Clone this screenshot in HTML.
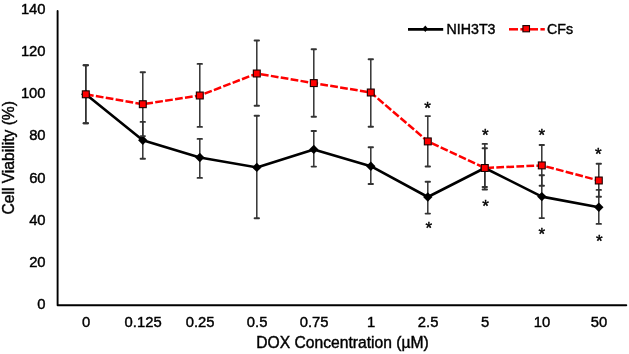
<!DOCTYPE html>
<html><head><meta charset="utf-8"><style>
html,body{margin:0;padding:0;background:#fff;}
body{width:629px;height:354px;overflow:hidden;}
svg{display:block;will-change:transform;}
text{font-family:"Liberation Sans",sans-serif;fill:#000;stroke:#000;stroke-width:0.42px;}
.yl{font-size:14.8px;text-anchor:end;}
.xl{font-size:14.8px;text-anchor:middle;}
.tt{font-size:15.65px;text-anchor:middle;}
.lg{font-size:14.2px;}
.ast{font-size:17px;text-anchor:middle;}
</style></head><body>
<svg width="629" height="354" viewBox="0 0 629 354">
<g stroke="#333" stroke-width="1.5" fill="none">
<line x1="85.80" y1="65.30" x2="85.80" y2="123.30"/><line x1="83.60" y1="65.30" x2="88.00" y2="65.30" stroke-width="1.9" stroke-linecap="round"/><line x1="83.60" y1="123.30" x2="88.00" y2="123.30" stroke-width="1.9" stroke-linecap="round"/>
<line x1="142.80" y1="121.90" x2="142.80" y2="158.80"/><line x1="140.60" y1="121.90" x2="145.00" y2="121.90" stroke-width="1.9" stroke-linecap="round"/><line x1="140.60" y1="158.80" x2="145.00" y2="158.80" stroke-width="1.9" stroke-linecap="round"/>
<line x1="199.80" y1="138.90" x2="199.80" y2="177.90"/><line x1="197.60" y1="138.90" x2="202.00" y2="138.90" stroke-width="1.9" stroke-linecap="round"/><line x1="197.60" y1="177.90" x2="202.00" y2="177.90" stroke-width="1.9" stroke-linecap="round"/>
<line x1="256.80" y1="115.70" x2="256.80" y2="218.20"/><line x1="254.60" y1="115.70" x2="259.00" y2="115.70" stroke-width="1.9" stroke-linecap="round"/><line x1="254.60" y1="218.20" x2="259.00" y2="218.20" stroke-width="1.9" stroke-linecap="round"/>
<line x1="313.80" y1="131.00" x2="313.80" y2="166.60"/><line x1="311.60" y1="131.00" x2="316.00" y2="131.00" stroke-width="1.9" stroke-linecap="round"/><line x1="311.60" y1="166.60" x2="316.00" y2="166.60" stroke-width="1.9" stroke-linecap="round"/>
<line x1="370.80" y1="147.20" x2="370.80" y2="184.00"/><line x1="368.60" y1="147.20" x2="373.00" y2="147.20" stroke-width="1.9" stroke-linecap="round"/><line x1="368.60" y1="184.00" x2="373.00" y2="184.00" stroke-width="1.9" stroke-linecap="round"/>
<line x1="427.80" y1="181.80" x2="427.80" y2="213.60"/><line x1="425.60" y1="181.80" x2="430.00" y2="181.80" stroke-width="1.9" stroke-linecap="round"/><line x1="425.60" y1="213.60" x2="430.00" y2="213.60" stroke-width="1.9" stroke-linecap="round"/>
<line x1="484.80" y1="148.20" x2="484.80" y2="187.00"/><line x1="482.60" y1="148.20" x2="487.00" y2="148.20" stroke-width="1.9" stroke-linecap="round"/><line x1="482.60" y1="187.00" x2="487.00" y2="187.00" stroke-width="1.9" stroke-linecap="round"/>
<line x1="541.80" y1="175.20" x2="541.80" y2="218.10"/><line x1="539.60" y1="175.20" x2="544.00" y2="175.20" stroke-width="1.9" stroke-linecap="round"/><line x1="539.60" y1="218.10" x2="544.00" y2="218.10" stroke-width="1.9" stroke-linecap="round"/>
<line x1="598.80" y1="189.90" x2="598.80" y2="223.90"/><line x1="596.60" y1="189.90" x2="601.00" y2="189.90" stroke-width="1.9" stroke-linecap="round"/><line x1="596.60" y1="223.90" x2="601.00" y2="223.90" stroke-width="1.9" stroke-linecap="round"/>
</g>
<polyline points="85.80,94.30 142.80,140.30 199.80,157.50 256.80,167.40 313.80,149.40 370.80,166.20 427.80,197.00 484.80,168.00 541.80,196.60 598.80,207.30" fill="none" stroke="#000" stroke-width="2.6" stroke-linejoin="round"/>
<path d="M85.80 89.60L90.50 94.30L85.80 99.00L81.10 94.30Z" fill="#000"/>
<path d="M142.80 135.60L147.50 140.30L142.80 145.00L138.10 140.30Z" fill="#000"/>
<path d="M199.80 152.80L204.50 157.50L199.80 162.20L195.10 157.50Z" fill="#000"/>
<path d="M256.80 162.70L261.50 167.40L256.80 172.10L252.10 167.40Z" fill="#000"/>
<path d="M313.80 144.70L318.50 149.40L313.80 154.10L309.10 149.40Z" fill="#000"/>
<path d="M370.80 161.50L375.50 166.20L370.80 170.90L366.10 166.20Z" fill="#000"/>
<path d="M427.80 192.30L432.50 197.00L427.80 201.70L423.10 197.00Z" fill="#000"/>
<path d="M484.80 163.30L489.50 168.00L484.80 172.70L480.10 168.00Z" fill="#000"/>
<path d="M541.80 191.90L546.50 196.60L541.80 201.30L537.10 196.60Z" fill="#000"/>
<path d="M598.80 202.60L603.50 207.30L598.80 212.00L594.10 207.30Z" fill="#000"/>
<g stroke="#333" stroke-width="1.5" fill="none">
<line x1="85.80" y1="65.30" x2="85.80" y2="123.30"/><line x1="83.60" y1="65.30" x2="88.00" y2="65.30" stroke-width="1.9" stroke-linecap="round"/><line x1="83.60" y1="123.30" x2="88.00" y2="123.30" stroke-width="1.9" stroke-linecap="round"/>
<line x1="142.80" y1="72.30" x2="142.80" y2="136.10"/><line x1="140.60" y1="72.30" x2="145.00" y2="72.30" stroke-width="1.9" stroke-linecap="round"/><line x1="140.60" y1="136.10" x2="145.00" y2="136.10" stroke-width="1.9" stroke-linecap="round"/>
<line x1="199.80" y1="63.90" x2="199.80" y2="126.90"/><line x1="197.60" y1="63.90" x2="202.00" y2="63.90" stroke-width="1.9" stroke-linecap="round"/><line x1="197.60" y1="126.90" x2="202.00" y2="126.90" stroke-width="1.9" stroke-linecap="round"/>
<line x1="256.80" y1="40.50" x2="256.80" y2="105.80"/><line x1="254.60" y1="40.50" x2="259.00" y2="40.50" stroke-width="1.9" stroke-linecap="round"/><line x1="254.60" y1="105.80" x2="259.00" y2="105.80" stroke-width="1.9" stroke-linecap="round"/>
<line x1="313.80" y1="49.30" x2="313.80" y2="116.80"/><line x1="311.60" y1="49.30" x2="316.00" y2="49.30" stroke-width="1.9" stroke-linecap="round"/><line x1="311.60" y1="116.80" x2="316.00" y2="116.80" stroke-width="1.9" stroke-linecap="round"/>
<line x1="370.80" y1="59.30" x2="370.80" y2="126.80"/><line x1="368.60" y1="59.30" x2="373.00" y2="59.30" stroke-width="1.9" stroke-linecap="round"/><line x1="368.60" y1="126.80" x2="373.00" y2="126.80" stroke-width="1.9" stroke-linecap="round"/>
<line x1="427.80" y1="116.10" x2="427.80" y2="166.50"/><line x1="425.60" y1="116.10" x2="430.00" y2="116.10" stroke-width="1.9" stroke-linecap="round"/><line x1="425.60" y1="166.50" x2="430.00" y2="166.50" stroke-width="1.9" stroke-linecap="round"/>
<line x1="484.80" y1="143.90" x2="484.80" y2="189.50"/><line x1="482.60" y1="143.90" x2="487.00" y2="143.90" stroke-width="1.9" stroke-linecap="round"/><line x1="482.60" y1="189.50" x2="487.00" y2="189.50" stroke-width="1.9" stroke-linecap="round"/>
<line x1="541.80" y1="145.00" x2="541.80" y2="185.80"/><line x1="539.60" y1="145.00" x2="544.00" y2="145.00" stroke-width="1.9" stroke-linecap="round"/><line x1="539.60" y1="185.80" x2="544.00" y2="185.80" stroke-width="1.9" stroke-linecap="round"/>
<line x1="598.80" y1="163.70" x2="598.80" y2="196.80"/><line x1="596.60" y1="163.70" x2="601.00" y2="163.70" stroke-width="1.9" stroke-linecap="round"/><line x1="596.60" y1="196.80" x2="601.00" y2="196.80" stroke-width="1.9" stroke-linecap="round"/>
</g>
<polyline points="85.80,94.30 142.80,104.20 199.80,95.50 256.80,73.50 313.80,83.10 370.80,92.50 427.80,141.40 484.80,168.00 541.80,165.40 598.80,180.50" fill="none" stroke="#ff0000" stroke-width="2.5" stroke-dasharray="7.75 2.285" stroke-dashoffset="-0.18"/>
<rect x="82.35" y="90.85" width="6.90" height="6.90" fill="#ff0000" stroke="#1a0000" stroke-width="1.1"/>
<rect x="139.35" y="100.75" width="6.90" height="6.90" fill="#ff0000" stroke="#1a0000" stroke-width="1.1"/>
<rect x="196.35" y="92.05" width="6.90" height="6.90" fill="#ff0000" stroke="#1a0000" stroke-width="1.1"/>
<rect x="253.35" y="70.05" width="6.90" height="6.90" fill="#ff0000" stroke="#1a0000" stroke-width="1.1"/>
<rect x="310.35" y="79.65" width="6.90" height="6.90" fill="#ff0000" stroke="#1a0000" stroke-width="1.1"/>
<rect x="367.35" y="89.05" width="6.90" height="6.90" fill="#ff0000" stroke="#1a0000" stroke-width="1.1"/>
<rect x="424.35" y="137.95" width="6.90" height="6.90" fill="#ff0000" stroke="#1a0000" stroke-width="1.1"/>
<rect x="481.35" y="164.55" width="6.90" height="6.90" fill="#ff0000" stroke="#1a0000" stroke-width="1.1"/>
<rect x="538.35" y="161.95" width="6.90" height="6.90" fill="#ff0000" stroke="#1a0000" stroke-width="1.1"/>
<rect x="595.35" y="177.05" width="6.90" height="6.90" fill="#ff0000" stroke="#1a0000" stroke-width="1.1"/>
<text x="427.60" y="113.90" class="ast">*</text>
<text x="428.70" y="234.10" class="ast">*</text>
<text x="485.30" y="140.60" class="ast">*</text>
<text x="485.60" y="211.50" class="ast">*</text>
<text x="541.90" y="140.60" class="ast">*</text>
<text x="541.90" y="240.30" class="ast">*</text>
<text x="598.30" y="159.60" class="ast">*</text>
<text x="599.40" y="246.90" class="ast">*</text>
<path d="M57.6 10.9V305.3H626.3" fill="none" stroke="#000" stroke-width="1.9" stroke-linejoin="round" stroke-linecap="round"/>
<text x="45.6" y="309.10" class="yl">0</text>
<text x="45.6" y="266.94" class="yl">20</text>
<text x="45.6" y="224.78" class="yl">40</text>
<text x="45.6" y="182.62" class="yl">60</text>
<text x="45.6" y="140.46" class="yl">80</text>
<text x="45.6" y="98.30" class="yl">100</text>
<text x="45.6" y="56.14" class="yl">120</text>
<text x="45.6" y="13.98" class="yl">140</text>
<text x="86.10" y="327.1" class="xl">0</text>
<text x="143.10" y="327.1" class="xl">0.125</text>
<text x="200.10" y="327.1" class="xl">0.25</text>
<text x="257.10" y="327.1" class="xl">0.5</text>
<text x="314.10" y="327.1" class="xl">0.75</text>
<text x="371.10" y="327.1" class="xl">1</text>
<text x="428.10" y="327.1" class="xl">2.5</text>
<text x="485.10" y="327.1" class="xl">5</text>
<text x="542.10" y="327.1" class="xl">10</text>
<text x="599.10" y="327.1" class="xl">50</text>
<text x="342.5" y="347.6" class="tt">DOX Concentration (µM)</text>
<text transform="translate(13.6 157.8) rotate(-90)" class="tt">Cell Viability (%)</text>
<line x1="408" y1="29.3" x2="443.2" y2="29.3" stroke="#000" stroke-width="2.7"/>
<path d="M425.3 25.5L428.105 28.8L425.3 32.1L422.495 28.8Z" fill="#000"/>
<text x="446.6" y="33.5" class="lg">NIH3T3</text>
<g stroke="#ff0000" stroke-width="2.5"><line x1="509" y1="29.3" x2="518" y2="29.3"/><line x1="520.4" y1="29.3" x2="538" y2="29.3"/><line x1="540.4" y1="29.3" x2="544.8" y2="29.3"/></g>
<rect x="522.9" y="25.6" width="6.6" height="6.2" fill="#ff0000" stroke="#1a0000" stroke-width="1.1"/>
<text x="547" y="33.5" class="lg">CFs</text>
</svg>
</body></html>
